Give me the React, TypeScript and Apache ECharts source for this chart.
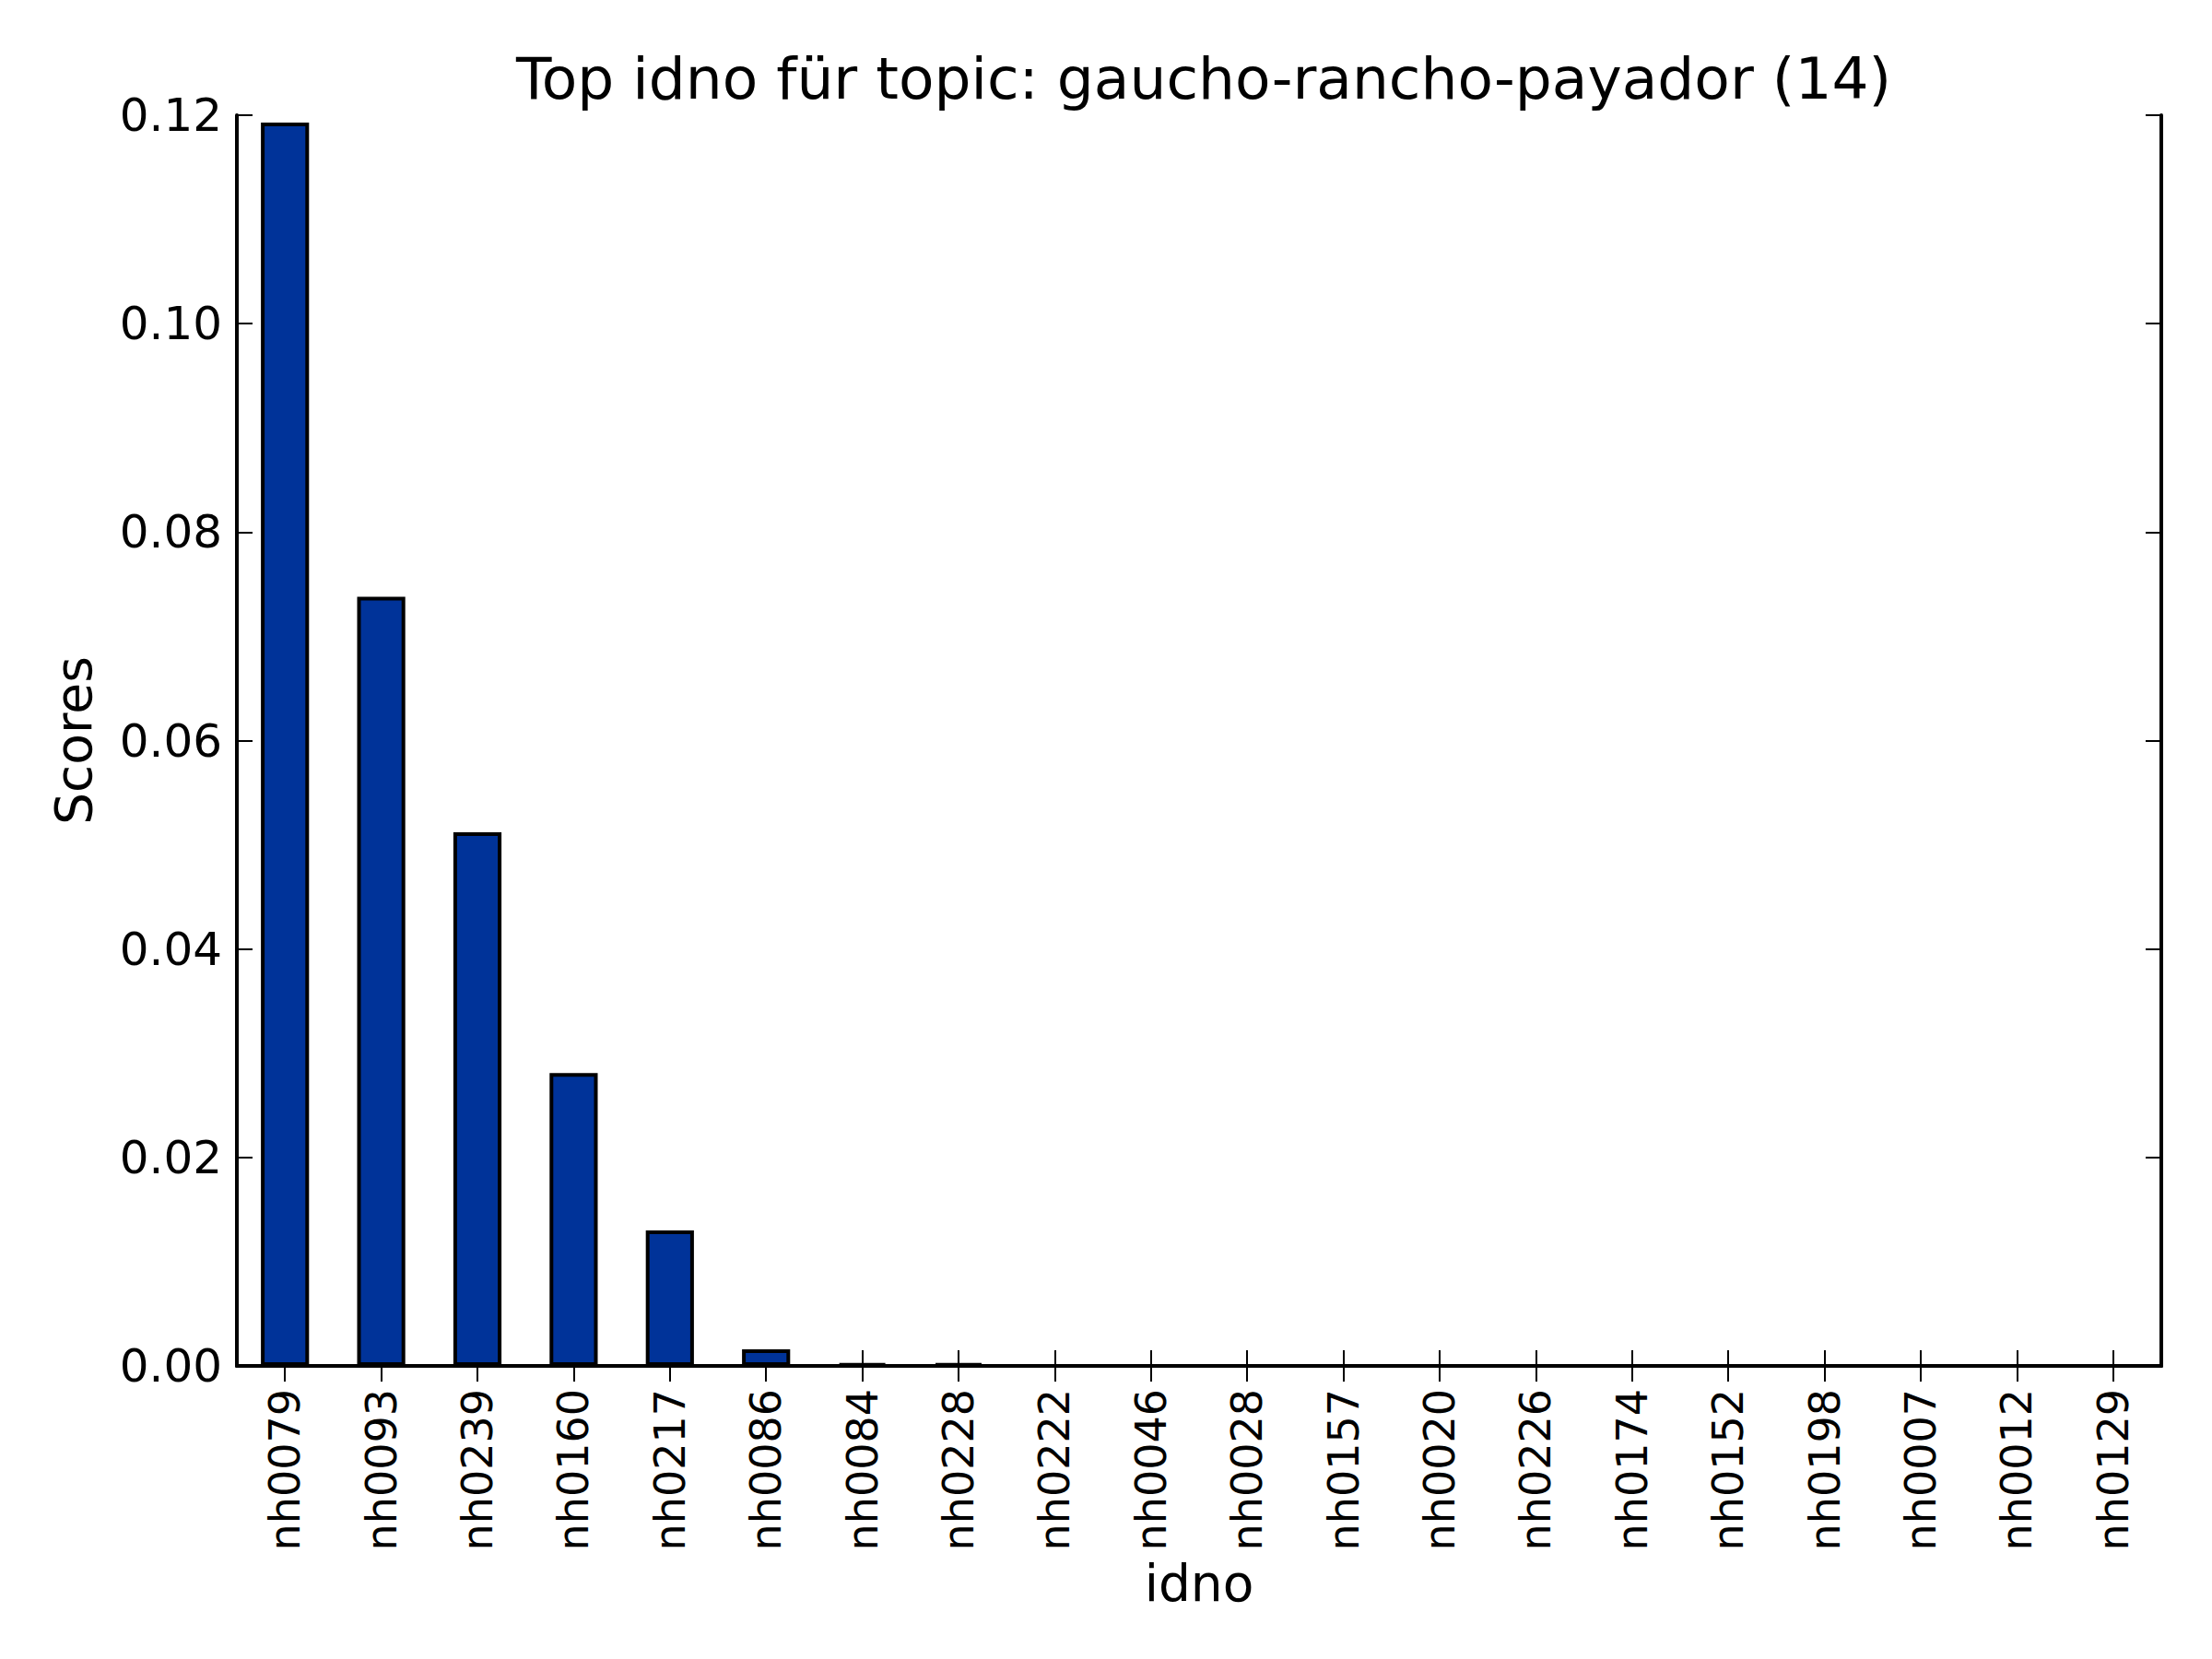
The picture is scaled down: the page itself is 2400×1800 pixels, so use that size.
import React, { useEffect, useRef } from "react";
import * as echarts from "echarts";

const categories = [
  "nh0079", "nh0093", "nh0239", "nh0160", "nh0217", "nh0086", "nh0084",
  "nh0228", "nh0222", "nh0046", "nh0028", "nh0157", "nh0020", "nh0226",
  "nh0174", "nh0152", "nh0198", "nh0007", "nh0012", "nh0129",
];

const scores = [
  0.1193, 0.0738, 0.0512, 0.0281, 0.013, 0.0016, 0.0002, 0.0002, 0, 0,
  0, 0, 0, 0, 0, 0, 0, 0, 0, 0,
];

const yTicks = [0, 0.02, 0.04, 0.06, 0.08, 0.1, 0.12];

const titleText = "Top idno für topic: gaucho-rancho-payador (14)";

const FONT = "DejaVu Sans";

const App: React.FC = () => {
  const chartRef = useRef<HTMLDivElement>(null);

  useEffect(() => {
    document.body.style.margin = "0";
    if (!chartRef.current) return;
    const chart = echarts.init(chartRef.current, undefined, { renderer: "svg" });

    const yMin = yTicks[0];
    const yMax = yTicks[yTicks.length - 1];
    const yStep = yTicks[1] - yTicks[0];

    const tickStyle = {
      show: true,
      inside: true,
      length: 17,
      alignWithLabel: true,
      lineStyle: { color: "#000", width: 2 },
    };
    const lineStyle = { show: true, lineStyle: { color: "#000", width: 4 } };

    chart.setOption({
      animation: false,
      backgroundColor: "#fff",
      title: {
        text: titleText,
        left: 1301,
        top: 49,
        textAlign: "center",
        textStyle: {
          fontFamily: FONT,
          fontSize: 63,
          fontWeight: "normal",
          color: "#000",
        },
      },
      grid: {
        left: 257,
        right: 55,
        top: 125,
        bottom: 318,
        containLabel: false,
      },
      xAxis: [
        {
          type: "category",
          data: categories,
          position: "bottom",
          boundaryGap: true,
          axisLine: lineStyle,
          axisTick: tickStyle,
          axisLabel: {
            rotate: 90,
            interval: 0,
            margin: 25,
            fontFamily: FONT,
            fontSize: 46,
            color: "#000",
          },
          name: "idno",
          nameLocation: "middle",
          nameGap: 196,
          nameTextStyle: { fontFamily: FONT, fontSize: 55, color: "#000" },
          splitLine: { show: false },
        },
        {
          type: "category",
          data: categories,
          position: "top",
          boundaryGap: true,
          axisLine: lineStyle,
          axisTick: tickStyle,
          axisLabel: { show: false },
          splitLine: { show: false },
        },
      ],
      yAxis: [
        {
          type: "value",
          position: "left",
          min: yMin,
          max: yMax,
          interval: yStep,
          axisLine: lineStyle,
          axisTick: tickStyle,
          axisLabel: {
            margin: 16,
            fontFamily: FONT,
            fontSize: 50,
            color: "#000",
            formatter: (v: number) => v.toFixed(2),
          },
          name: "Scores",
          nameLocation: "middle",
          nameGap: 150,
          nameTextStyle: { fontFamily: FONT, fontSize: 55, color: "#000" },
          splitLine: { show: false },
        },
        {
          type: "value",
          position: "right",
          min: yMin,
          max: yMax,
          interval: yStep,
          axisLine: lineStyle,
          axisTick: tickStyle,
          axisLabel: { show: false },
          splitLine: { show: false },
        },
      ],
      series: [
        {
          type: "bar",
          data: scores,
          xAxisIndex: 0,
          yAxisIndex: 0,
          barWidth: "50%",
          itemStyle: {
            color: "#003399",
            borderColor: "#000",
            borderWidth: 4,
          },
        },
      ],
    });

    return () => {
      chart.dispose();
    };
  }, []);

  return <div ref={chartRef} style={{ width: 2400, height: 1800 }} />;
};

export default App;
